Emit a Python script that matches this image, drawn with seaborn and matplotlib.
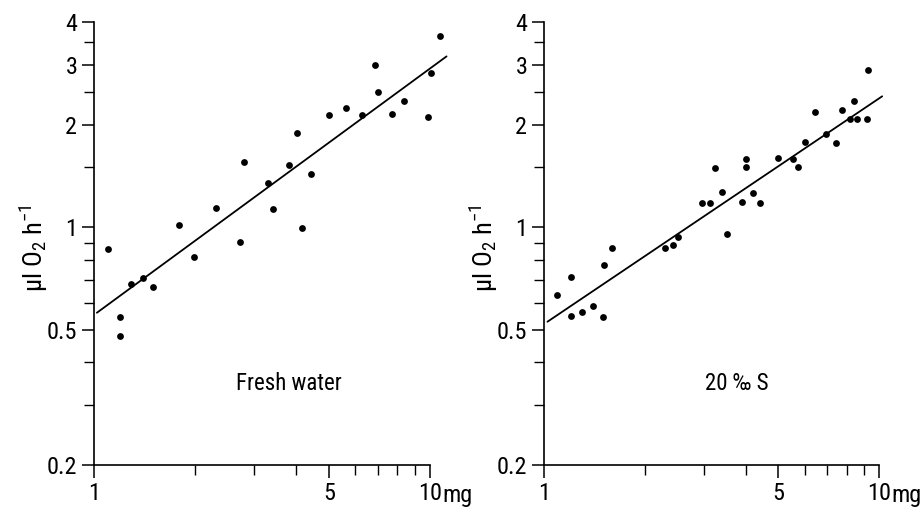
import numpy as np
import pandas as pd
import matplotlib
matplotlib.use("Agg")
import matplotlib.pyplot as plt
import seaborn as sns

# ---- data ----
fresh_mass = [1.10, 1.195, 1.195, 1.29, 1.40, 1.50, 1.79, 1.985, 2.31, 2.72, 2.80,
              3.30, 3.41, 3.81, 4.02, 4.16, 4.42, 5.00, 5.62, 6.27, 6.86, 7.00,
              7.70, 8.37, 9.86, 10.1, 10.7]
fresh_o2 = [0.86, 0.545, 0.478, 0.68, 0.71, 0.666, 1.015, 0.815, 1.14, 0.906, 1.55,
            1.35, 1.13, 1.52, 1.89, 0.995, 1.43, 2.13, 2.24, 2.13, 3.00, 2.50,
            2.14, 2.35, 2.10, 2.84, 3.63]
fresh_fit_mass = [1.02, 11.2]
fresh_fit_o2 = [0.56, 3.17]

salt_mass = [1.095, 1.206, 1.20, 1.30, 1.405, 1.505, 1.51, 1.60, 2.305, 2.42, 2.52,
             2.97, 3.12, 3.23, 3.41, 3.52, 3.91, 4.02, 4.02, 4.22, 4.40, 5.00,
             5.55, 5.74, 6.02, 6.43, 6.97, 7.42, 7.73, 8.20, 8.43, 8.62, 9.18, 9.29]
salt_o2 = [0.632, 0.714, 0.548, 0.561, 0.588, 0.545, 0.771, 0.865, 0.869, 0.887, 0.937,
           1.18, 1.18, 1.495, 1.27, 0.957, 1.187, 1.58, 1.505, 1.262, 1.174, 1.59,
           1.58, 1.505, 1.78, 2.18, 1.87, 1.77, 2.20, 2.07, 2.34, 2.07, 2.08, 2.90]
salt_fit_mass = [1.024, 10.22]
salt_fit_o2 = [0.527, 2.42]

panel_labels = ["Fresh water", "20 \u2030 S"]
x_major = [1, 5, 10]
x_minor = [2, 3, 4, 6, 7, 8, 9]
x_major_labels = ["1", "5", "10"]
y_major = [0.2, 0.5, 1, 2, 3, 4]
y_minor = [0.3, 0.4, 0.6, 0.7, 0.8, 0.9, 1.5, 2.5, 3.5]
y_major_labels = ["0.2", "0.5", "1", "2", "3", "4"]

sns.set_theme(style="white")
plt.rcParams["font.family"] = ["Roboto Condensed", "Roboto", "DejaVu Sans"]
plt.rcParams["mathtext.fontset"] = "custom"
plt.rcParams["mathtext.rm"] = "Roboto Condensed"
plt.rcParams["mathtext.it"] = "Roboto Condensed"

fig = plt.figure(figsize=(9.21, 5.09), dpi=100)
ax1 = fig.add_axes([94 / 921, 44 / 509, 336 / 921, 443 / 509])
ax2 = fig.add_axes([544 / 921, 44 / 509, 335 / 921, 443 / 509])

panels = [
    (ax1, fresh_mass, fresh_o2, fresh_fit_mass, fresh_fit_o2, panel_labels[0], (0.58, 0.185)),
    (ax2, salt_mass, salt_o2, salt_fit_mass, salt_fit_o2, panel_labels[1], (0.575, 0.185)),
]

for ax, xm, yo, fx, fy, lab, pos in panels:
    df = pd.DataFrame({"mass": xm, "o2": yo})
    fit = pd.DataFrame({"mass": fx, "o2": fy})
    ax.set_xscale("log")
    ax.set_yscale("log")
    sns.lineplot(data=fit, x="mass", y="o2", ax=ax, color="black", linewidth=1.3,
                 clip_on=False)
    sns.scatterplot(data=df, x="mass", y="o2", ax=ax, color="black", s=24,
                    edgecolor="black", linewidth=0, clip_on=False, zorder=3)
    ax.set_xlim(1, 10)
    ax.set_ylim(0.2, 4)
    ax.set_xticks(x_major)
    ax.set_xticks(x_minor, minor=True)
    ax.set_xticklabels(x_major_labels)
    ax.set_xticklabels([], minor=True)
    ax.set_yticks(y_major)
    ax.set_yticks(y_minor, minor=True)
    ax.set_yticklabels(y_major_labels)
    ax.set_yticklabels([], minor=True)
    ax.tick_params(axis="both", which="major", direction="out", length=9, width=1.1,
                   color="black", labelsize=17.5, labelcolor="black", pad=3,
                   bottom=True, left=True)
    ax.tick_params(axis="both", which="minor", direction="out", length=7, width=1.0,
                   color="black", bottom=True, left=True)
    for side in ["top", "right"]:
        ax.spines[side].set_visible(False)
    for side in ["left", "bottom"]:
        ax.spines[side].set_color("black")
        ax.spines[side].set_linewidth(1.2)
    ax.set_xlabel("")
    ax.set_ylabel("\u00b5l O$_2$ h$^{-1}$", fontsize=19, color="black")
    ax.yaxis.set_label_coords(-0.13, 0.49)
    ax.annotate("mg", xy=(10, 0), xycoords=("data", "axes fraction"),
                xytext=(9, -14), textcoords="offset points", ha="left", va="top",
                fontsize=17.5, color="black")
    ax.text(pos[0], pos[1], lab, transform=ax.transAxes, ha="center", va="center",
            fontsize=16.5, color="black")
    ax.set_facecolor("white")

fig.savefig("out.png", dpi=100, facecolor="white")
